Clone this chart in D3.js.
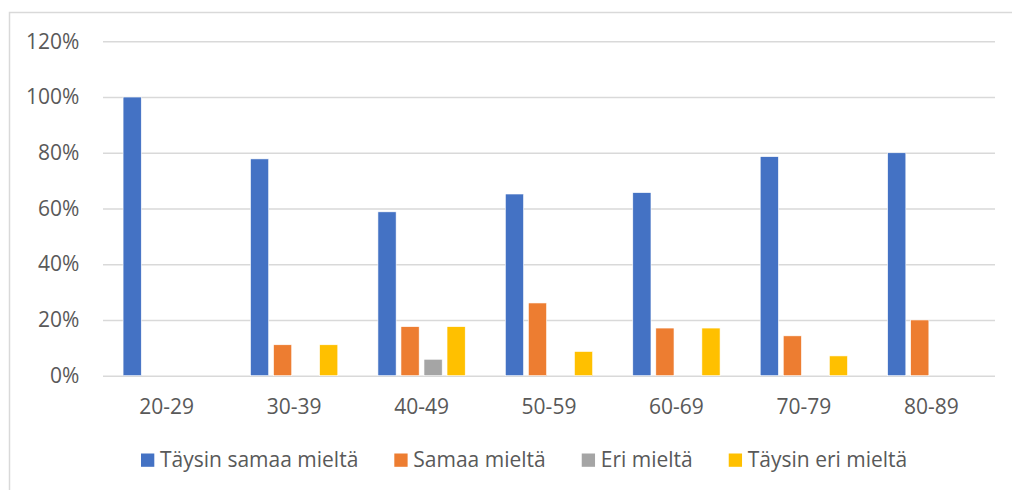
<!DOCTYPE html>
<html>
<head>
<meta charset="utf-8">
<script src="https://cdn.jsdelivr.net/npm/d3@7"></script>
<style>
  body { margin: 0; background: #fff; }
  text { font-family: "Open Sans", Lato, sans-serif; fill: #595959; }
</style>
</head>
<body>
<div id="chart"></div>
<script>
(() => {

    // data
    var groups = ["20-29", "30-39", "40-49", "50-59", "60-69", "70-79", "80-89"];
    var series = ["Täysin samaa mieltä", "Samaa mieltä", "Eri mieltä", "Täysin eri mieltä"];
    var taysinSamaa = [1.00, 0.778, 0.588, 0.652, 0.657, 0.786, 0.80];
    var samaa = [0, 0.111, 0.176, 0.261, 0.171, 0.143, 0.20];
    var eri = [0, 0, 0.059, 0, 0, 0, 0];
    var taysinEri = [0, 0.111, 0.176, 0.087, 0.171, 0.071, 0];
    var yTicks = [0, 0.2, 0.4, 0.6, 0.8, 1.0, 1.2];
    var colors = ["#4472C4", "#ED7D31", "#A5A5A5", "#FFC000"];

    var values = [taysinSamaa, samaa, eri, taysinEri];

    var W = 1012, H = 490;
    var left = 103, right = 995, top = 41.3, bottom = 375.7;
    var fontSize = "21px";

    var svg = d3.select("#chart")
        .append("svg")
        .attr("width", W)
        .attr("height", H);

    // outer chart border (right and bottom edges fall outside the picture)
    svg.append("rect")
        .attr("x", 9.5).attr("y", 12.5)
        .attr("width", W + 20).attr("height", H + 20)
        .style("fill", "none")
        .style("stroke", "#d9d9d9")
        .attr("stroke-width", 1.5);

    var x = d3.scaleBand()
        .domain(groups)
        .range([left, right])
        .paddingInner(0.315)
        .paddingOuter(0.1575);

    var x1 = d3.scaleBand()
        .domain(series)
        .range([0, x.bandwidth()])
        .paddingInner(0.21);

    var y = d3.scaleLinear()
        .domain([0, 1.2])
        .range([bottom, top]);

    // y axis with gridlines
    var yAxis = svg.append("g")
        .attr("transform", "translate(" + left + ",0)")
        .call(d3.axisLeft(y)
            .tickValues(yTicks)
            .tickSize(-(right - left))
            .tickPadding(23.7)
            .tickFormat(d3.format(".0%")));
    yAxis.select(".domain").remove();
    yAxis.selectAll("line")
        .style("stroke", "#d9d9d9")
        .attr("stroke-width", 1.5);
    yAxis.selectAll("text")
        .style("font-size", fontSize)
        .style("font-family", "'Open Sans', Lato, sans-serif")
        .style("fill", "#595959");

    // x axis labels
    var xAxis = svg.append("g")
        .attr("transform", "translate(0," + bottom + ")")
        .call(d3.axisBottom(x).tickSize(0).tickPadding(23));
    xAxis.select(".domain").remove();
    xAxis.selectAll("text")
        .style("font-size", fontSize)
        .style("font-family", "'Open Sans', Lato, sans-serif")
        .style("fill", "#595959");

    // bars
    var rows = [];
    groups.forEach(function (g, i) {
        series.forEach(function (s, j) {
            rows.push({ group: g, series: s, value: values[j][i], color: colors[j] });
        });
    });

    svg.selectAll("rect.bar")
        .data(rows.filter(function (d) { return d.value > 0; }))
        .enter()
        .append("rect")
        .attr("class", "bar")
        .attr("x", function (d) { return x(d.group) + x1(d.series); })
        .attr("y", function (d) { return y(d.value); })
        .attr("width", x1.bandwidth())
        .attr("height", function (d) { return bottom - y(d.value); })
        .style("fill", function (d) { return d.color; })
        .style("stroke", "white")
        .attr("stroke-width", 0.6);

    // legend
    var legend = svg.append("g").attr("transform", "translate(141,0)");
    var lx = 0;
    series.forEach(function (s, j) {
        legend.append("rect")
            .attr("x", lx).attr("y", 453.5)
            .attr("width", 13.3).attr("height", 13.3)
            .style("fill", colors[j]);
        var t = legend.append("text")
            .attr("x", lx + 19)
            .attr("y", 466.7)
            .text(s)
            .style("font-size", fontSize);
        lx += 19 + t.node().getComputedTextLength() + 36;
    });

})();
</script>
</body>
</html>
